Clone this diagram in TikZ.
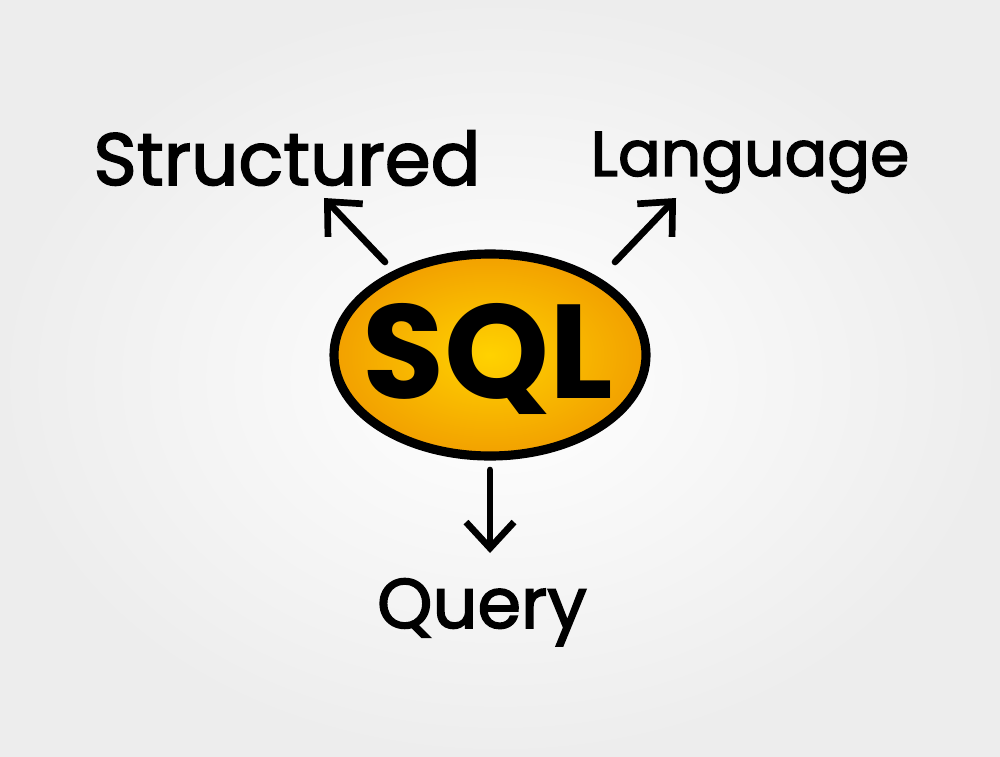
\documentclass[tikz,border=0pt]{standalone}
\usepackage{fontspec}
\setmainfont{Poppins}
\newfontfamily\handfont{Poppins}[FakeBold=2.2]
\usetikzlibrary{shapes.geometric,arrows.meta}
\definecolor{sqlyellow}{HTML}{FFD200}
\definecolor{sqlorange}{HTML}{F2A000}
\begin{document}
\begin{tikzpicture}[>={Straight Barb[length=2.6mm,width=4.8mm]},line cap=round]
  \tikzstyle{word}=[anchor=base,inner sep=0pt]
  \tikzstyle{arrow}=[->,line width=1.9pt,line join=round]
  \tikzstyle{bubble}=[ellipse,draw=black,line width=2.6pt,minimum width=3.12cm,
                      minimum height=2.02cm,inner sep=0pt,
                      inner color=sqlyellow,outer color=sqlorange]
  \useasboundingbox (0,0) rectangle (10,7.56);
  \shade[inner color=white,outer color=black!7] (0,0) rectangle (10,7.56);
  \node [bubble] (sql) at (4.9,4.01) {};
  \node [font=\bfseries\fontsize{38}{38}\selectfont,inner sep=0pt] (sql label) at (4.88,3.97) {SQL};
  \node [word,font=\handfont\fontsize{21}{21}\selectfont] (struct) at (2.87,5.71) {Structured};
  \node [word,font=\handfont\fontsize{18}{18}\selectfont] (lang) at (7.5,5.8) {Language};
  \node [word,font=\handfont\fontsize{20}{20}\selectfont] (query) at (4.82,1.28) {Query};
  \coordinate (struct end) at (3.24,5.58);
  \coordinate (lang end) at (6.76,5.58);
  \coordinate (query end) at (4.9,2.03);
  \draw [arrow] (3.85,4.94) -- (struct end);
  \draw [arrow] (6.15,4.94) -- (lang end);
  \draw [arrow] (4.9,2.86) -- (query end);
\end{tikzpicture}
\end{document}
